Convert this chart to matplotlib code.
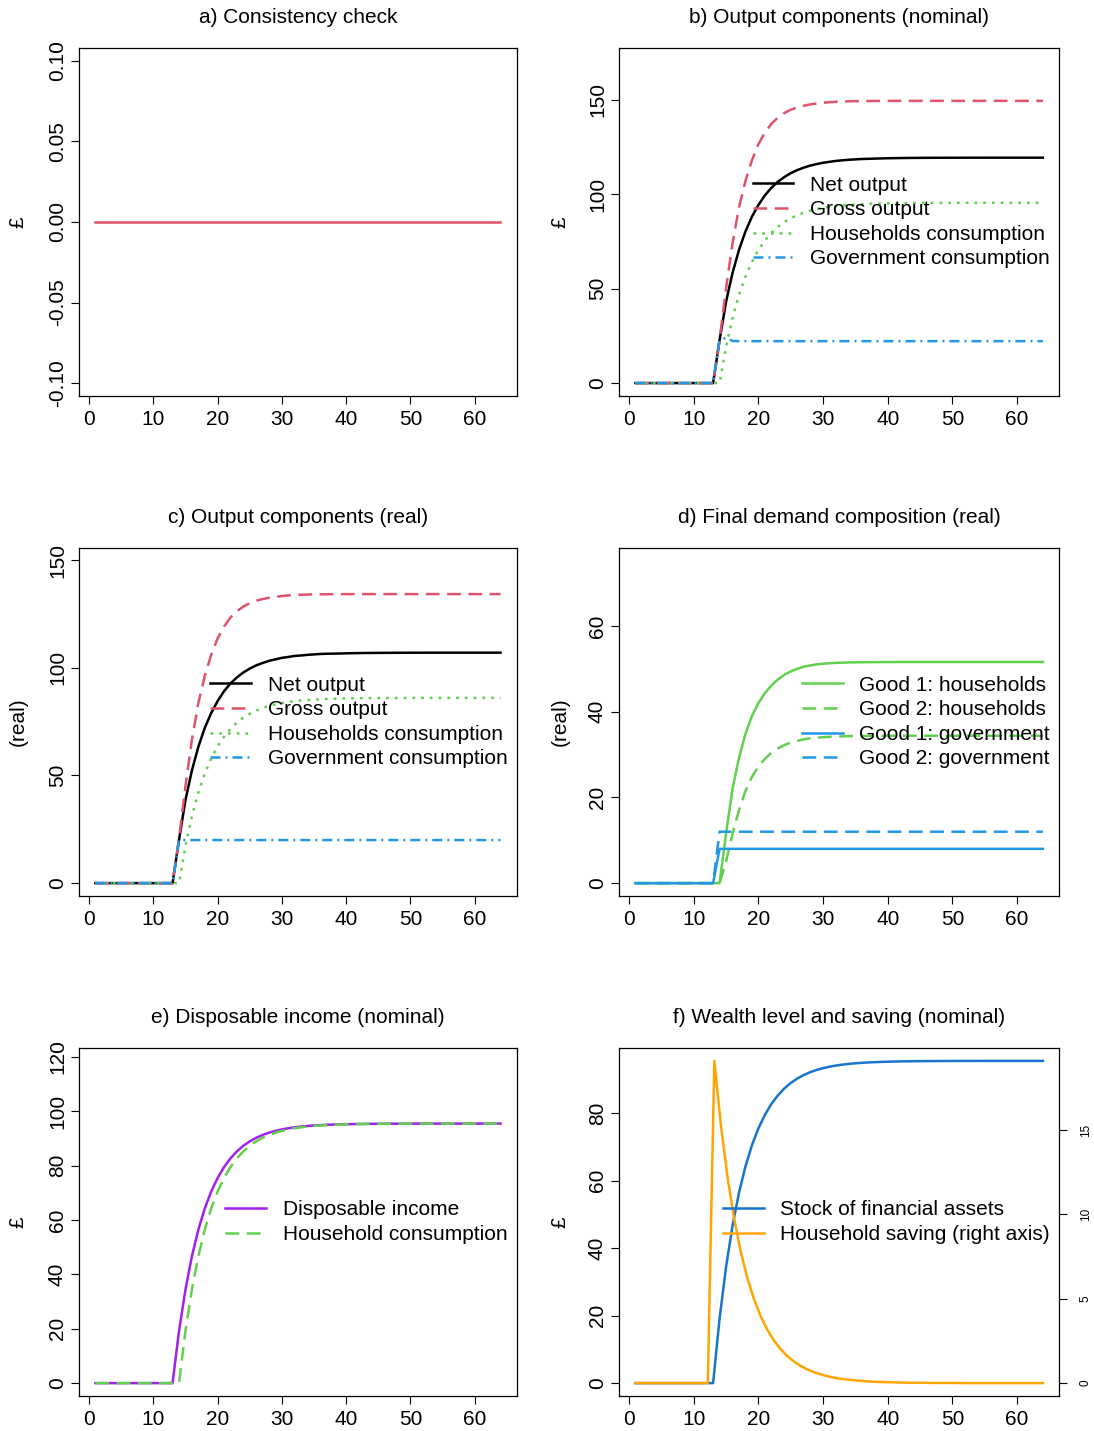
import numpy as np
import matplotlib
matplotlib.use("Agg")
import matplotlib.pyplot as plt
from matplotlib.ticker import FormatStrFormatter

plt.rcParams['font.family'] = ['Liberation Sans', 'DejaVu Sans']
plt.rcParams['axes.unicode_minus'] = False

# ---------- data (periods 1..64, shock hits in period 14) ----------
periods = np.arange(1, 65)
periods_saving = np.arange(1, 64)   # saving = diff(wealth), one shorter

consistency = [0.0] * 64

net_nominal = [
    0, 0, 0, 0, 0, 0, 0, 0, 0, 0, 0, 0, 0,
    22.7, 43.0, 58.3, 70.5, 80.3, 88.1, 94.3, 99.4, 103.4, 106.6,
    109.1, 111.2, 112.8, 114.1, 115.2, 116.0, 116.7, 117.2, 117.7, 118.0,
    118.3, 118.5, 118.7, 118.8, 118.9, 119.0, 119.1, 119.15, 119.2, 119.25,
    119.28, 119.3, 119.32, 119.34, 119.35, 119.36, 119.37, 119.38, 119.38, 119.39,
    119.39, 119.4, 119.4, 119.4, 119.4, 119.4, 119.4, 119.4, 119.4, 119.4, 119.4]
gross_nominal = [
    0, 0, 0, 0, 0, 0, 0, 0, 0, 0, 0, 0, 0,
    23.0, 50.0, 74.0, 93.0, 107.0, 118.0, 126.5, 132.7, 137.3, 140.6,
    143.0, 144.8, 146.0, 146.9, 147.6, 148.1, 148.5, 148.8, 149.0, 149.15,
    149.25, 149.33, 149.38, 149.42, 149.45, 149.47, 149.48, 149.49, 149.5, 149.5,
    149.5, 149.5, 149.5, 149.5, 149.5, 149.5, 149.5, 149.5, 149.5, 149.5,
    149.5, 149.5, 149.5, 149.5, 149.5, 149.5, 149.5, 149.5, 149.5, 149.5, 149.5]
cons_nominal = [
    0, 0, 0, 0, 0, 0, 0, 0, 0, 0, 0, 0, 0,
    0.0, 19.1, 34.38, 46.6, 56.38, 64.2, 70.46, 75.47, 79.48, 82.69,
    85.25, 87.3, 88.94, 90.25, 91.3, 92.14, 92.81, 93.35, 93.78, 94.12,
    94.39, 94.61, 94.79, 94.93, 95.04, 95.13, 95.2, 95.26, 95.31, 95.35,
    95.38, 95.4, 95.42, 95.44, 95.45, 95.46, 95.47, 95.48, 95.48, 95.49,
    95.49, 95.49, 95.5, 95.5, 95.5, 95.5, 95.5, 95.5, 95.5, 95.5, 95.5]
gov_nominal = [
    0, 0, 0, 0, 0, 0, 0, 0, 0, 0, 0, 0, 0,
    22.7, 24.0, 22.3, 22.2, 22.2, 22.2, 22.2, 22.2, 22.2, 22.2,
    22.2, 22.2, 22.2, 22.2, 22.2, 22.2, 22.2, 22.2, 22.2, 22.2,
    22.2, 22.2, 22.2, 22.2, 22.2, 22.2, 22.2, 22.2, 22.2, 22.2,
    22.2, 22.2, 22.2, 22.2, 22.2, 22.2, 22.2, 22.2, 22.2, 22.2,
    22.2, 22.2, 22.2, 22.2, 22.2, 22.2, 22.2, 22.2, 22.2, 22.2, 22.2]

net_real = [
    0, 0, 0, 0, 0, 0, 0, 0, 0, 0, 0, 0, 0,
    20.0, 38.5, 52.2, 63.2, 72.0, 78.9, 84.5, 89.1, 92.7, 95.5,
    97.8, 99.6, 101.1, 102.2, 103.2, 103.9, 104.6, 105.0, 105.5, 105.7,
    106.0, 106.2, 106.4, 106.5, 106.55, 106.6, 106.7, 106.75, 106.8, 106.85,
    106.88, 106.9, 106.92, 106.94, 106.95, 106.96, 106.97, 106.98, 106.98, 106.99,
    106.99, 107.0, 107.0, 107.0, 107.0, 107.0, 107.0, 107.0, 107.0, 107.0, 107.0]
gross_real = [
    0, 0, 0, 0, 0, 0, 0, 0, 0, 0, 0, 0, 0,
    20.7, 44.9, 66.4, 83.5, 96.1, 105.9, 113.6, 119.1, 123.3, 126.2,
    128.4, 130.0, 131.1, 131.9, 132.5, 132.9, 133.3, 133.6, 133.8, 133.9,
    134.0, 134.05, 134.1, 134.13, 134.15, 134.17, 134.18, 134.19, 134.2, 134.2,
    134.2, 134.2, 134.2, 134.2, 134.2, 134.2, 134.2, 134.2, 134.2, 134.2,
    134.2, 134.2, 134.2, 134.2, 134.2, 134.2, 134.2, 134.2, 134.2, 134.2, 134.2]
cons_real = [
    0, 0, 0, 0, 0, 0, 0, 0, 0, 0, 0, 0, 0,
    0.0, 17.2, 31.0, 42.0, 50.8, 57.8, 63.5, 68.0, 71.6, 74.5,
    76.8, 78.6, 80.1, 81.3, 82.3, 83.0, 83.6, 84.1, 84.5, 84.8,
    85.0, 85.2, 85.4, 85.5, 85.6, 85.7, 85.75, 85.8, 85.85, 85.88,
    85.9, 85.92, 85.94, 85.95, 85.96, 85.97, 85.98, 85.98, 85.99, 85.99,
    86.0, 86.0, 86.0, 86.0, 86.0, 86.0, 86.0, 86.0, 86.0, 86.0, 86.0]
gov_real = [
    0, 0, 0, 0, 0, 0, 0, 0, 0, 0, 0, 0, 0,
    20, 20, 20, 20, 20, 20, 20, 20, 20, 20,
    20, 20, 20, 20, 20, 20, 20, 20, 20, 20,
    20, 20, 20, 20, 20, 20, 20, 20, 20, 20,
    20, 20, 20, 20, 20, 20, 20, 20, 20, 20,
    20, 20, 20, 20, 20, 20, 20, 20, 20, 20, 20]

good1_hh = [
    0, 0, 0, 0, 0, 0, 0, 0, 0, 0, 0, 0, 0,
    0.0, 11.5, 22.0, 29.2, 34.8, 39.0, 42.0, 44.3, 46.1, 47.5,
    48.6, 49.4, 50.0, 50.5, 50.8, 51.05, 51.2, 51.3, 51.4, 51.45,
    51.5, 51.52, 51.54, 51.56, 51.57, 51.58, 51.59, 51.59, 51.6, 51.6,
    51.6, 51.6, 51.6, 51.6, 51.6, 51.6, 51.6, 51.6, 51.6, 51.6,
    51.6, 51.6, 51.6, 51.6, 51.6, 51.6, 51.6, 51.6, 51.6, 51.6, 51.6]
good2_hh = [
    0, 0, 0, 0, 0, 0, 0, 0, 0, 0, 0, 0, 0,
    0.0, 5.0, 11.5, 17.0, 21.5, 24.8, 27.2, 29.0, 30.4, 31.4,
    32.2, 32.8, 33.2, 33.55, 33.8, 33.95, 34.05, 34.15, 34.2, 34.25,
    34.3, 34.33, 34.35, 34.37, 34.38, 34.39, 34.4, 34.4, 34.4, 34.4,
    34.4, 34.4, 34.4, 34.4, 34.4, 34.4, 34.4, 34.4, 34.4, 34.4,
    34.4, 34.4, 34.4, 34.4, 34.4, 34.4, 34.4, 34.4, 34.4, 34.4, 34.4]
good1_gov = [
    0, 0, 0, 0, 0, 0, 0, 0, 0, 0, 0, 0, 0,
    8, 8, 8, 8, 8, 8, 8, 8, 8, 8,
    8, 8, 8, 8, 8, 8, 8, 8, 8, 8,
    8, 8, 8, 8, 8, 8, 8, 8, 8, 8,
    8, 8, 8, 8, 8, 8, 8, 8, 8, 8,
    8, 8, 8, 8, 8, 8, 8, 8, 8, 8, 8]
good2_gov = [
    0, 0, 0, 0, 0, 0, 0, 0, 0, 0, 0, 0, 0,
    12, 12, 12, 12, 12, 12, 12, 12, 12, 12,
    12, 12, 12, 12, 12, 12, 12, 12, 12, 12,
    12, 12, 12, 12, 12, 12, 12, 12, 12, 12,
    12, 12, 12, 12, 12, 12, 12, 12, 12, 12,
    12, 12, 12, 12, 12, 12, 12, 12, 12, 12, 12]

disp_income = [
    0, 0, 0, 0, 0, 0, 0, 0, 0, 0, 0, 0, 0,
    19.1, 34.38, 46.6, 56.38, 64.2, 70.46, 75.47, 79.48, 82.69, 85.25,
    87.3, 88.94, 90.25, 91.3, 92.14, 92.81, 93.35, 93.78, 94.12, 94.39,
    94.61, 94.79, 94.93, 95.04, 95.13, 95.2, 95.26, 95.31, 95.35, 95.38,
    95.4, 95.42, 95.44, 95.45, 95.46, 95.47, 95.48, 95.48, 95.49, 95.49,
    95.49, 95.5, 95.5, 95.5, 95.5, 95.5, 95.5, 95.5, 95.5, 95.5, 95.5]
wealth = [
    0, 0, 0, 0, 0, 0, 0, 0, 0, 0, 0, 0, 0,
    19.1, 34.38, 46.6, 56.38, 64.2, 70.46, 75.47, 79.48, 82.69, 85.25,
    87.3, 88.94, 90.25, 91.3, 92.14, 92.81, 93.35, 93.78, 94.12, 94.39,
    94.61, 94.79, 94.93, 95.04, 95.13, 95.2, 95.26, 95.31, 95.35, 95.38,
    95.4, 95.42, 95.44, 95.45, 95.46, 95.47, 95.48, 95.48, 95.49, 95.49,
    95.49, 95.5, 95.5, 95.5, 95.5, 95.5, 95.5, 95.5, 95.5, 95.5, 95.5]
saving = [
    0, 0, 0, 0, 0, 0, 0, 0, 0, 0, 0, 0,
    19.1, 15.28, 12.22, 9.78, 7.82, 6.26, 5.01, 4.01, 3.21, 2.56,
    2.05, 1.64, 1.31, 1.05, 0.84, 0.67, 0.54, 0.43, 0.34, 0.27,
    0.22, 0.18, 0.14, 0.11, 0.09, 0.07, 0.06, 0.05, 0.04, 0.03,
    0.02, 0.02, 0.02, 0.01, 0.01, 0.01, 0.01, 0.01, 0.0, 0.0,
    0.0, 0.0, 0.0, 0.0, 0.0, 0.0, 0.0, 0.0, 0.0, 0.0, 0.0]

labels_output = ["Net output", "Gross output", "Households consumption",
                 "Government consumption"]
labels_goods = ["Good 1: households", "Good 2: households",
                "Good 1: government", "Good 2: government"]
labels_income = ["Disposable income", "Household consumption"]
labels_wealth = ["Stock of financial assets", "Household saving (right axis)"]

# ---------- style (R base graphics look) ----------
BLACK = "#000000"
RED = "#DF536B"
GREEN = "#61D04F"
BLUE = "#2297E6"
PURPLE = "#A020F0"
ORANGE = "#FFA500"
DBLUE = "#1874CD"

LW = 1.8
FS = 15
DASHED = (0, (5.5, 3.0))
DOTTED = (0, (1.1, 2.4))
DASHDOT = (0, (4.0, 2.0, 0.8, 2.0))

W, H = 1094, 1431
fig = plt.figure(figsize=(W / 100, H / 100), dpi=100)


def box(x0, x1, y0, y1):
    return [x0 / W, 1 - y1 / H, (x1 - x0) / W, (y1 - y0) / H]


def r_axes(ax, title, ylabel, ylim, yticks, lab_x):
    ax.set_xlim(-1.52, 66.52)
    ax.set_ylim(ylim)
    ax.set_xticks([0, 10, 20, 30, 40, 50, 60])
    ax.set_yticks(yticks)
    ax.tick_params(direction="out", length=5.8, width=0.8, labelsize=FS,
                   colors=BLACK)
    ax.tick_params(axis="x", pad=4)
    ax.tick_params(axis="y", pad=3)
    for lab in ax.get_yticklabels():
        lab.set_rotation(90)
        lab.set_va("center")
    for sp in ax.spines.values():
        sp.set_linewidth(0.9)
        sp.set_color(BLACK)
    ax.set_title(title, fontsize=FS, pad=18)
    ax.set_ylabel(ylabel, fontsize=FS, va="center")
    ax.yaxis.set_label_coords(lab_x, 0.5)


def r_legend(ax, handles, labels):
    ax.legend(handles, labels, loc="center right", bbox_to_anchor=(1.0, 0.5),
              frameon=False, fontsize=FS, handlelength=1.95,
              handletextpad=0.8, labelspacing=0.27, borderpad=0,
              borderaxespad=0.45)


LEFT = (79.2, 516.7)
RIGHT = (619.2, 1059.2)
ROWS = [(48, 396), (548, 896), (1048, 1396)]

# a) consistency check
ax = fig.add_axes(box(LEFT[0], LEFT[1], *ROWS[0]))
ax.plot(periods, consistency, color=RED, lw=LW)
r_axes(ax, "a) Consistency check", "£", (-0.108, 0.108),
       [-0.1, -0.05, 0.0, 0.05, 0.1], -0.14)
ax.yaxis.set_major_formatter(FormatStrFormatter("%.2f"))
for lab in ax.get_yticklabels():
    lab.set_rotation(90)
    lab.set_va("center")

# b) output components nominal
ax = fig.add_axes(box(RIGHT[0], RIGHT[1], *ROWS[0]))
h1, = ax.plot(periods, net_nominal, color=BLACK, lw=LW)
h2, = ax.plot(periods, gross_nominal, color=RED, lw=LW, ls=DASHED)
h3, = ax.plot(periods, cons_nominal, color=GREEN, lw=LW, ls=DOTTED)
h4, = ax.plot(periods, gov_nominal, color=BLUE, lw=LW, ls=DASHDOT)
r_axes(ax, "b) Output components (nominal)", "£", (-6.85, 177.5),
       [0, 50, 100, 150], -0.135)
r_legend(ax, [h1, h2, h3, h4], labels_output)

# c) output components real
ax = fig.add_axes(box(LEFT[0], LEFT[1], *ROWS[1]))
h1, = ax.plot(periods, net_real, color=BLACK, lw=LW)
h2, = ax.plot(periods, gross_real, color=RED, lw=LW, ls=DASHED)
h3, = ax.plot(periods, cons_real, color=GREEN, lw=LW, ls=DOTTED)
h4, = ax.plot(periods, gov_real, color=BLUE, lw=LW, ls=DASHDOT)
r_axes(ax, "c) Output components (real)", "(real)", (-5.98, 155.6),
       [0, 50, 100, 150], -0.14)
r_legend(ax, [h1, h2, h3, h4], labels_output)

# d) final demand composition
ax = fig.add_axes(box(RIGHT[0], RIGHT[1], *ROWS[1]))
h1, = ax.plot(periods, good1_hh, color=GREEN, lw=LW)
h2, = ax.plot(periods, good2_hh, color=GREEN, lw=LW, ls=DASHED)
h3, = ax.plot(periods, good1_gov, color=BLUE, lw=LW)
h4, = ax.plot(periods, good2_gov, color=BLUE, lw=LW, ls=DASHED)
r_axes(ax, "d) Final demand composition (real)", "(real)", (-3.0, 78.2),
       [0, 20, 40, 60], -0.135)
r_legend(ax, [h1, h2, h3, h4], labels_goods)

# e) disposable income
ax = fig.add_axes(box(LEFT[0], LEFT[1], *ROWS[2]))
h1, = ax.plot(periods, disp_income, color=PURPLE, lw=LW)
h2, = ax.plot(periods, cons_nominal, color=GREEN, lw=LW, ls=DASHED)
r_axes(ax, "e) Disposable income (nominal)", "£", (-4.74, 123.3),
       [0, 20, 40, 60, 80, 100, 120], -0.14)
r_legend(ax, [h1, h2], labels_income)

# f) wealth and saving, saving on its own overlaid axes (right scale)
pos = box(RIGHT[0], RIGHT[1], *ROWS[2])
ax = fig.add_axes(pos)
h1, = ax.plot(periods, wealth, color=DBLUE, lw=LW)
wmax = max(wealth)
r_axes(ax, "f) Wealth level and saving (nominal)", "£",
       (-0.04 * wmax, 1.04 * wmax), [0, 20, 40, 60, 80], -0.135)

ax2 = fig.add_axes(pos, frameon=False)
h2, = ax2.plot(periods_saving, saving, color=ORANGE, lw=LW)
smax = max(saving)
ax2.set_xlim(1 - 0.04 * 62, 63 + 0.04 * 62)
ax2.set_ylim(-0.04 * smax, 1.04 * smax)
ax2.patch.set_visible(False)
ax2.xaxis.set_visible(False)
ax2.yaxis.tick_right()
ax2.set_yticks([0, 5, 10, 15])
ax2.tick_params(axis="y", direction="out", length=5.8, width=0.8,
                labelsize=8.5, pad=9)
for lab in ax2.get_yticklabels():
    lab.set_rotation(90)
    lab.set_va("center")
r_legend(ax2, [h1, h2], labels_wealth)

fig.savefig("out.png", dpi=100)
